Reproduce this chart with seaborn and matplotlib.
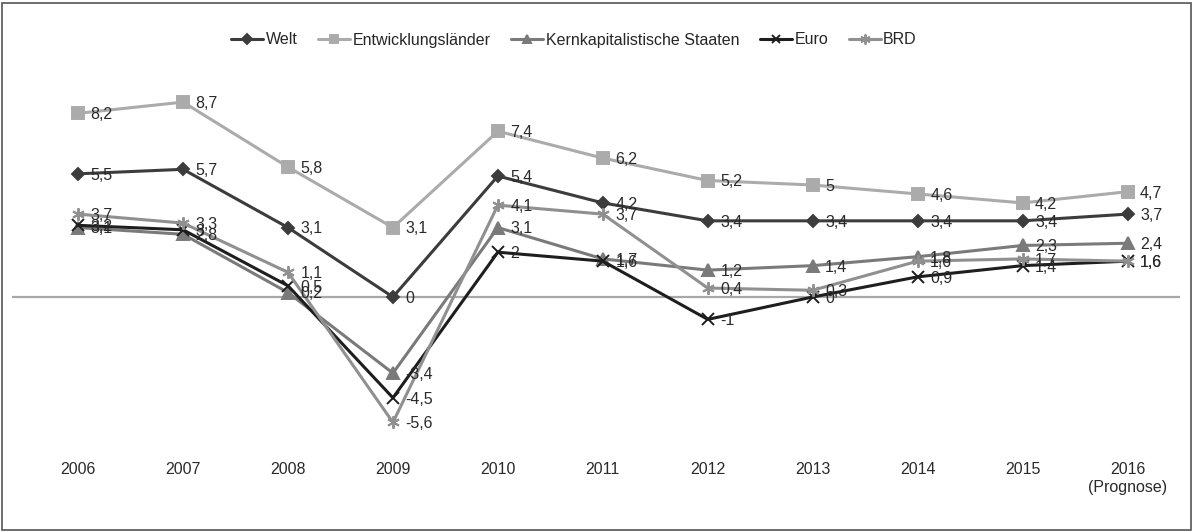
import matplotlib
matplotlib.use("Agg")
import matplotlib.pyplot as plt
import seaborn as sns
import pandas as pd
from matplotlib.patches import Rectangle

# Wachstumsraten des BIP in Prozent
years = [2006, 2007, 2008, 2009, 2010, 2011, 2012, 2013, 2014, 2015, 2016]
year_labels = ["2006", "2007", "2008", "2009", "2010", "2011", "2012", "2013",
               "2014", "2015", "2016\n(Prognose)"]

welt = [5.5, 5.7, 3.1, 0, 5.4, 4.2, 3.4, 3.4, 3.4, 3.4, 3.7]
entwicklungslaender = [8.2, 8.7, 5.8, 3.1, 7.4, 6.2, 5.2, 5, 4.6, 4.2, 4.7]
kernstaaten = [3.1, 2.8, 0.2, -3.4, 3.1, 1.7, 1.2, 1.4, 1.8, 2.3, 2.4]
euro = [3.2, 3.0, 0.5, -4.5, 2, 1.6, -1, 0, 0.9, 1.4, 1.6]
brd = [3.7, 3.3, 1.1, -5.6, 4.1, 3.7, 0.4, 0.3, 1.6, 1.7, 1.6]

series_names = ["Welt", "Entwicklungsländer", "Kernkapitalistische Staaten", "Euro", "BRD"]
series_values = [welt, entwicklungslaender, kernstaaten, euro, brd]

colors = {
    "Welt": "#3c3c3c",
    "Entwicklungsländer": "#ababab",
    "Kernkapitalistische Staaten": "#7a7a7a",
    "Euro": "#1e1e1e",
    "BRD": "#909090",
}
markers = {
    "Welt": "D",
    "Entwicklungsländer": "s",
    "Kernkapitalistische Staaten": "^",
    "Euro": "x",
    "BRD": (6, 2, 0),
}
marker_sizes = {
    "Welt": 6,
    "Entwicklungsländer": 8,
    "Kernkapitalistische Staaten": 8,
    "Euro": 8,
    "BRD": 9,
}

rows = []
for name, vals in zip(series_names, series_values):
    for y, v in zip(years, vals):
        rows.append({"Jahr": y, "Wert": v, "Reihe": name})
df = pd.DataFrame(rows)

sns.set_theme(style="white")
plt.rcParams["font.family"] = ["Liberation Sans", "DejaVu Sans"]

fig = plt.figure(figsize=(11.94, 5.32), dpi=100)
ax = fig.add_axes([12 / 1194, 82 / 532, 1168 / 1194, 390 / 532])

ax.axhline(0, color="#a8a8a8", lw=1.6, zorder=1)

for i, name in enumerate(series_names):
    sub = df[df["Reihe"] == name]
    sns.lineplot(data=sub, x="Jahr", y="Wert", ax=ax, color=colors[name],
                 marker=markers[name], markersize=marker_sizes[name],
                 markeredgecolor=colors[name], markerfacecolor=colors[name],
                 markeredgewidth=1.4, lw=2.2, label=name, zorder=2 + i)
    for x, v in zip(sub["Jahr"], sub["Wert"]):
        txt = f"{v:g}".replace(".", ",")
        ax.annotate(txt, (x, v), xytext=(9, -1), textcoords="offset points",
                    ha="left", va="center", fontsize=11.5, color="#2a2a2a",
                    zorder=10)

ax.set_xlim(2005.37, 2016.5)
ax.set_ylim(-6.83, 10.58)
ax.set_xticks(years)
ax.set_xticklabels(year_labels, fontsize=11.5, color="#2a2a2a")
ax.set_yticks([])
ax.tick_params(axis="x", length=0, pad=9)
ax.set_xlabel("")
ax.set_ylabel("")
for s in ax.spines.values():
    s.set_visible(False)

handles, labels = ax.get_legend_handles_labels()
ax.get_legend().remove()
fig.legend(handles, labels, loc="center", bbox_to_anchor=(574 / 1194, 1 - 40 / 532),
           ncol=5, frameon=False, fontsize=11.5, handlelength=2.0,
           handletextpad=0.15, columnspacing=1.3, markerscale=0.8)

fig.patches.append(Rectangle((2 / 1194, 2 / 532), 1189 / 1194, 527 / 532,
                             transform=fig.transFigure, fill=False,
                             edgecolor="#555555", lw=1.2))

fig.savefig("out.png", dpi=100)
